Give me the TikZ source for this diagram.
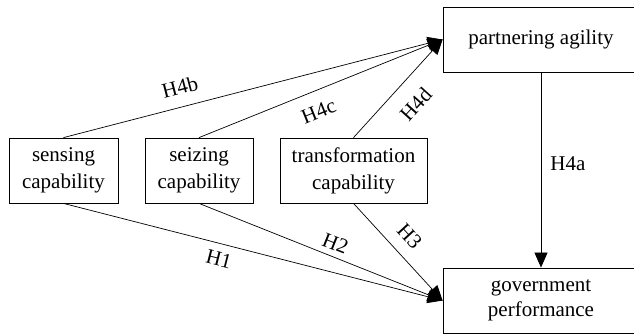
\documentclass[tikz,border=0pt]{standalone}
\usepackage{fontspec}
\setmainfont{Liberation Serif}
\usepackage{tikz}
\usetikzlibrary{arrows.meta}
\tikzstyle{construct}=[draw,line width=.8pt,minimum height=65pt,align=center,inner sep=0pt,font=\fontsize{21}{27}\selectfont]
\tikzstyle{hyp}=[line width=.7pt,-{Triangle[length=15pt,width=13pt]}]
\tikzstyle{hlab}=[font=\fontsize{21}{24}\selectfont,inner sep=0pt]
\begin{document}
\begin{tikzpicture}[x=1pt,y=-1pt]
	\useasboundingbox (0,0) rectangle (634,335);
	\node[construct,minimum width=109pt] (sens)  at (63.5,170.5) {sensing\\capability};
	\node[construct,minimum width=108pt] (seiz)  at (199,170.5)  {seizing\\capability};
	\node[construct,minimum width=147pt] (trans) at (353.5,170.5) {transformation\\capability};
	\node[construct,minimum width=196pt] (agil)  at (541,39.5)   {partnering agility};
	\node[construct,minimum width=196pt,font=\fontsize{21}{25}\selectfont] (perf) at (541,300.5) {government\\performance};
	\draw[hyp] (sens.north)  --node[hlab,pos=.32,sloped,above=12pt]{H4b} (agil.west);
	\draw[hyp] (seiz.north)  --node[hlab,pos=.46,sloped,below=13pt]{H4c} (agil.west);
	\draw[hyp] (trans.north) --node[hlab,pos=.5,sloped,below=16pt] {H4d} (agil.west);
	\draw[hyp] (agil.south)  --node[hlab,pos=.47,right=9pt]        {H4a} (perf.north);
	\draw[hyp] (sens.south)  --node[hlab,pos=.42,sloped,below=8pt] {H1}  (perf.west);
	\draw[hyp] (seiz.south)  --node[hlab,pos=.54,sloped,above=6pt] {H2}  (perf.west);
	\draw[hyp] (trans.south) --node[hlab,pos=.47,sloped,above=12pt]{H3}  (perf.west);
\end{tikzpicture}
\end{document}
